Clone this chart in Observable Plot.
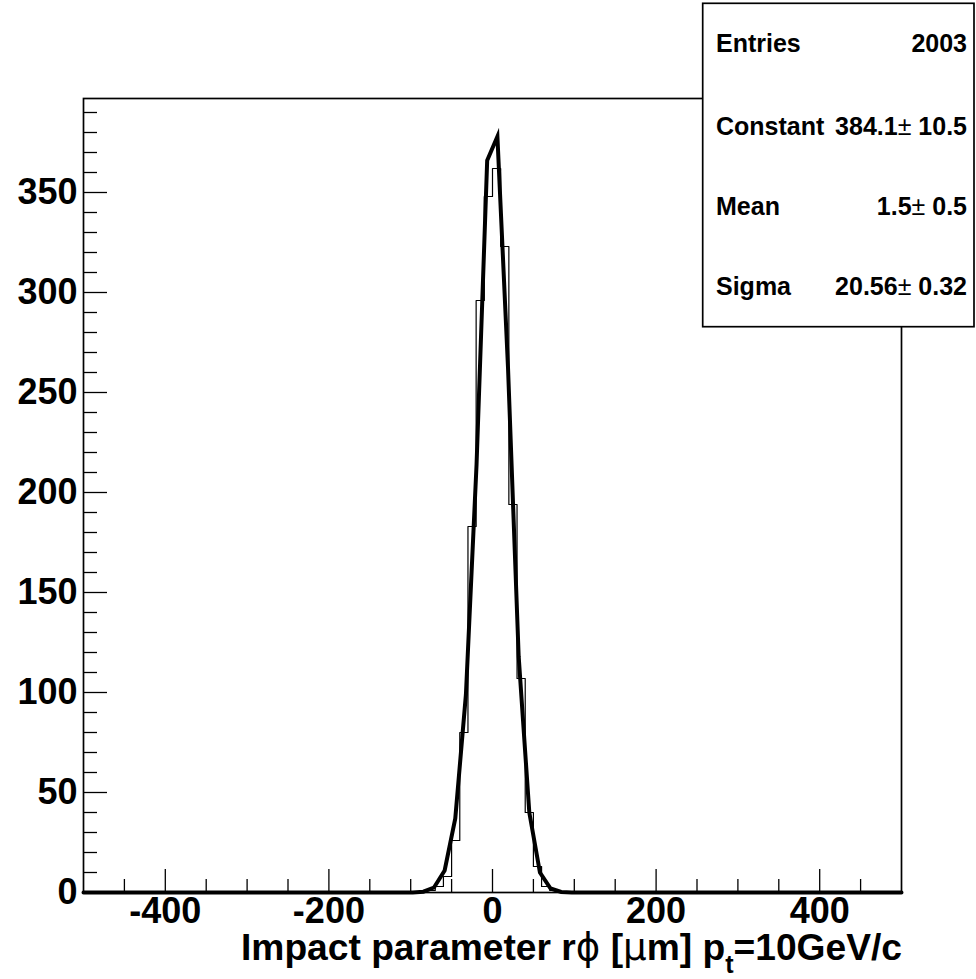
<!DOCTYPE html>
<html><head><meta charset="utf-8">
<script src="https://cdn.jsdelivr.net/npm/d3@7"></script>
<script src="https://cdn.jsdelivr.net/npm/@observablehq/plot@0.6"></script>
<style>
body{margin:0;background:#fff}
#chart{position:relative;width:976px;height:979px}
</style>
</head><body><div id="chart"></div>
<script>
// ---- data ----
const xDomain = [-500, 500];
const yDomain = [0, 397];
const binEdgesStart = -500;
const binWidth = 10;
const nBins = 100;
// lower edge of each non-empty bin and its content
const filledBinLow = [-80, -70, -60, -50, -40, -30, -20, -10, 0, 10, 20, 30, 40, 50, 60, 70];
const filledBinCount = [1, 3, 8, 26, 80, 183, 296, 348, 362, 323, 194, 107, 40, 13, 3, 1];
// Gaussian fit drawn as a polyline (vertices)
const fitX = [-500, -97.5, -84.5, -71.5, -58.5, -45.5, -32.5, -19.5, -6.5, 6, 19, 32, 45, 58, 71, 84, 97, 500];
const fitY = [0, 0, 0.4, 2.5, 11, 37, 99, 214, 366, 378, 262, 118, 40, 10, 2, 0.3, 0, 0];
// axis ticks
const xMajorTicks = [-400, -200, 0, 200, 400];
const xMinorTicks = [-450, -350, -300, -250, -150, -100, -50, 50, 100, 150, 250, 300, 350, 450];
const yMajorTicks = [0, 50, 100, 150, 200, 250, 300, 350];
const yMinorTicks = [10,20,30,40,60,70,80,90,110,120,130,140,160,170,180,190,210,220,230,240,260,270,280,290,310,320,330,340,360,370,380,390];
// stats box
const statNames = ["Entries", "Constant", "Mean", "Sigma"];
const statValues = [["2003"], ["384.1", "10.5"], ["1.5", "0.5"], ["20.56", "0.32"]];
const xTitleParts = ["Impact parameter r", "\u03D5", " [", "\u00B5", "m] p", "t", "=10GeV/c"];

// ---- build tables ----
const counts = new Array(nBins).fill(0);
filledBinLow.forEach((lo, i) => { counts[Math.round((lo - binEdgesStart) / binWidth)] = filledBinCount[i]; });
const histPts = counts.map((c, i) => ({x: binEdgesStart + i * binWidth, y: c}));
histPts.push({x: binEdgesStart + nBins * binWidth, y: counts[nBins - 1]});
const fitPts = fitX.map((x, i) => ({x, y: fitY[i]}));

const W = 976, H = 979, mL = 83, mR = 75, mT = 98, mB = 87;
const fw = W - mL - mR, fh = H - mT - mB;
const font = "'Liberation Sans', Arial, Helvetica, sans-serif";

const svg = Plot.plot({
  width: W, height: H,
  marginLeft: mL, marginRight: mR, marginTop: mT, marginBottom: mB,
  style: {fontFamily: font, background: "white", overflow: "visible", color: "black"},
  x: {domain: xDomain, axis: null},
  y: {domain: yDomain, axis: null},
  marks: [
    Plot.tickX(xMajorTicks, {x: d => d, insetTop: fh - 23, stroke: "black", strokeWidth: 1.3}),
    Plot.tickX(xMinorTicks, {x: d => d, insetTop: fh - 13, stroke: "black", strokeWidth: 1.3}),
    Plot.tickY(yMajorTicks, {y: d => d, insetRight: fw - 24, stroke: "black", strokeWidth: 1.3}),
    Plot.tickY(yMinorTicks, {y: d => d, insetRight: fw - 14, stroke: "black", strokeWidth: 1.3}),
    Plot.line(histPts, {x: "x", y: "y", curve: "step-after", stroke: "black", strokeWidth: 1.2}),
    Plot.line(fitPts, {x: "x", y: "y", stroke: "black", strokeWidth: 4, strokeLinejoin: "miter", strokeMiterlimit: 20}),
    Plot.frame({stroke: "black", strokeWidth: 1.7}),
    Plot.text(xMajorTicks, {x: d => d, frameAnchor: "bottom", dy: 30, text: d => String(d), fontSize: 36, fontWeight: "bold", fill: "black"}),
    Plot.text(yMajorTicks, {y: d => d, frameAnchor: "left", dx: -6, textAnchor: "end", text: d => String(d), fontSize: 36, fontWeight: "bold", fill: "black"})
  ]
});

const s = d3.select(svg);
// x axis title
const t = s.append("text")
  .attr("x", 902).attr("y", 960)
  .attr("text-anchor", "end")
  .attr("font-family", font).attr("font-size", 37).attr("font-weight", "bold")
  .attr("fill", "black")
  .attr("textLength", 661).attr("lengthAdjust", "spacingAndGlyphs");
xTitleParts.forEach((p, i) => {
  const ts = t.append("tspan").text(p);
  if (i === 1 || i === 3) ts.attr("font-weight", "normal").attr("font-family", "'DejaVu Sans', sans-serif");
  if (i === 5) ts.attr("font-size", 25).attr("dy", 13);
  if (i === 6) ts.attr("dy", -13);
});

// stats box
const bx = 702.7, by = 3.3, bw = 271.3, bh = 323.4;
s.append("rect").attr("x", bx).attr("y", by).attr("width", bw).attr("height", bh)
  .attr("fill", "white").attr("stroke", "black").attr("stroke-width", 1.7);
const baselines = [52, 134.5, 214.5, 294.5];
statNames.forEach((n, i) => {
  s.append("text").attr("x", 716).attr("y", baselines[i]).attr("text-anchor", "start")
    .attr("font-family", font).attr("font-size", 25).attr("font-weight", "bold").attr("fill", "black").text(n);
  const v = statValues[i];
  const tv = s.append("text").attr("x", 967).attr("y", baselines[i]).attr("text-anchor", "end")
    .attr("font-family", font).attr("font-size", 25).attr("font-weight", "bold").attr("fill", "black");
  tv.append("tspan").text(v[0]);
  if (v.length > 1) {
    tv.append("tspan").attr("font-weight", "normal").text("\u00B1 ");
    tv.append("tspan").text(v[1]);
  }
});

document.getElementById("chart").appendChild(svg);
</script>
</body></html>
